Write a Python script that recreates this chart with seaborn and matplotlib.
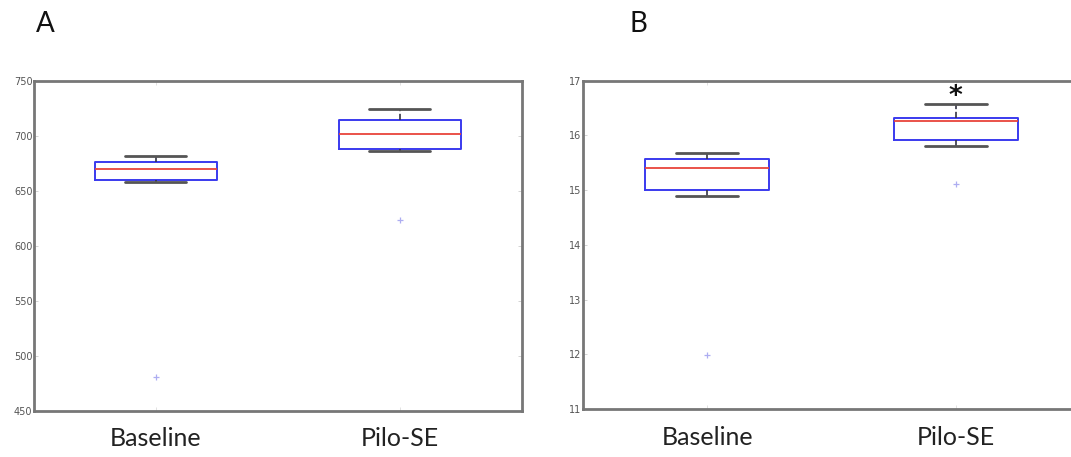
import matplotlib
matplotlib.use("Agg")
import matplotlib.pyplot as plt
import seaborn as sns
import pandas as pd

# Group labels shared by both panels
groups = ["Baseline", "Pilo-SE"]

# Panel A measurements per group
a_baseline = [481, 658, 662, 670, 674, 678, 682]
a_pilo = [623, 686, 690, 702, 710, 718, 724]

# Panel B measurements per group
b_baseline = [11.98, 14.90, 15.12, 15.40, 15.52, 15.60, 15.67]
b_pilo = [15.12, 15.81, 16.03, 16.26, 16.29, 16.33, 16.57]

# Axis ranges and ticks
a_ticks = [450, 500, 550, 600, 650, 700, 750]
b_ticks = [11, 12, 13, 14, 15, 16, 17]

# Significance marker above Pilo-SE in panel B
b_star_y = 16.70


def long_frame(base, pilo):
    return pd.DataFrame({
        "group": [groups[0]] * len(base) + [groups[1]] * len(pilo),
        "value": list(base) + list(pilo),
    })


sns.set_theme(style="white")
plt.rcParams["font.family"] = ["Lato", "DejaVu Sans"]

fig = plt.figure(figsize=(10.71, 4.57), dpi=100)
ax_a = fig.add_axes([0.0317, 0.1013, 0.4557, 0.7221])
ax_b = fig.add_axes([0.5443, 0.105, 0.4640, 0.7185])

box_kw = dict(
    x="group", y="value", order=groups, width=0.5, fill=False,
    linecolor="#3333ee", linewidth=1.3, whis=1.5,
    boxprops=dict(color="#3a3aee", linewidth=1.4),
    medianprops=dict(color="#e8443a", linewidth=1.3),
    whiskerprops=dict(color="#333344", linewidth=1.2, linestyle="--"),
    capprops=dict(color="#555555", linewidth=2.0),
    flierprops=dict(marker="+", markersize=4, markeredgecolor="#9999ee",
                    markeredgewidth=0.9, alpha=0.8),
)

for ax, base, pilo, ticks in [
    (ax_a, a_baseline, a_pilo, a_ticks),
    (ax_b, b_baseline, b_pilo, b_ticks),
]:
    sns.boxplot(data=long_frame(base, pilo), ax=ax, **box_kw)
    ax.set_ylim(ticks[0], ticks[-1])
    ax.set_yticks(ticks)
    ax.set_xlim(-0.5, 1.5)
    ax.set_xlabel("")
    ax.set_ylabel("")
    for sp in ax.spines.values():
        sp.set_color("#777777")
        sp.set_linewidth(2.0)
    ax.tick_params(axis="y", direction="in", length=3, width=0.6,
                   colors="#cccccc", labelcolor="#555555", labelsize=7,
                   right=True, left=True, pad=1)
    ax.tick_params(axis="x", direction="in", length=3, width=0.6,
                   colors="#dddddd", labelcolor="#222222", labelsize=18,
                   top=True, bottom=True, pad=12)
    for lab in ax.get_yticklabels():
        lab.set_family("DejaVu Sans")

ax_b.text(1, b_star_y, "*", ha="center", va="center", fontsize=19,
          fontweight="bold", color="#111111", family="DejaVu Sans")

fig.text(45 / 1071, 1 - 24 / 457, "A", ha="center", va="center",
         fontsize=20, color="#111111")
fig.text(638 / 1071, 1 - 24 / 457, "B", ha="center", va="center",
         fontsize=20, color="#111111")

fig.savefig("out.png", dpi=100, facecolor="white")
